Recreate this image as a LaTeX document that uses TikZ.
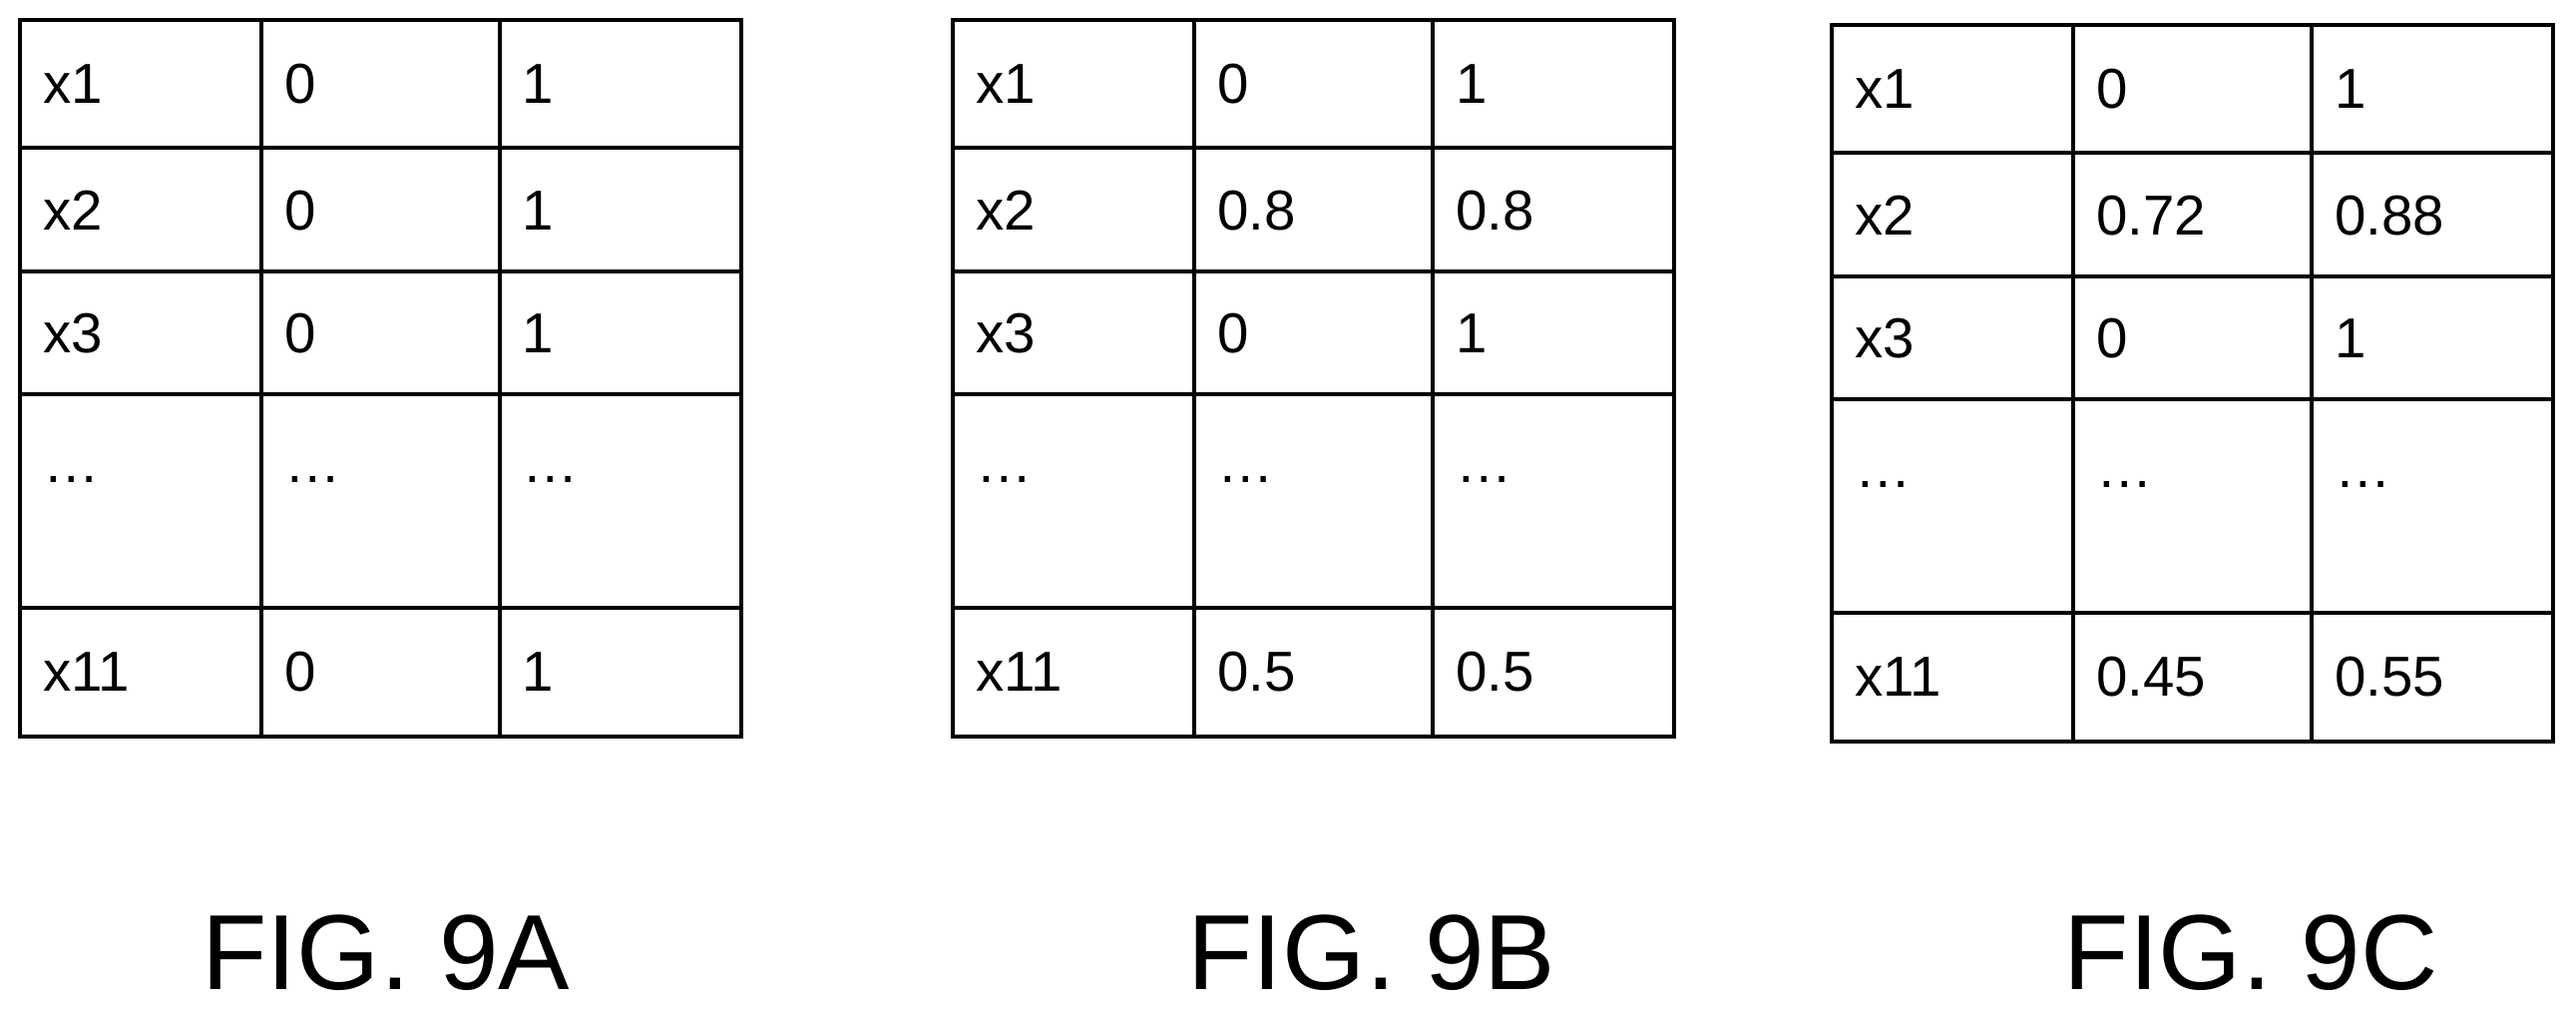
\documentclass[tikz,border=0pt]{standalone}
\usepackage{fontspec}
\setmainfont{Liberation Sans}
\usetikzlibrary{positioning}

\begin{document}
\begin{tikzpicture}[x=0.02cm, y=-0.02cm,
                cell/.style={anchor=west, font=\fontsize{19.5}{22}\selectfont},
                caption/.style={font=\fontsize{37}{42}\selectfont},
                grid/.style={line width=1.4pt}
            ]

            \useasboundingbox (0,0) rectangle (1568,620);

            % tables: left edge / top edge / name / column entries
            \foreach \tx/\ty/\tn/\ca/\cb in {
                12/12/A/{0,0,0,\dots,0}/{1,1,1,\dots,1},
                580/12/B/{0,0.8,0,\dots,0.5}/{1,0.8,1,\dots,0.5},
                1115/15/C/{0,0.72,0,\dots,0.45}/{1,0.88,1,\dots,0.55}} {
                \begin{scope}[shift={(\tx,\ty)}]
                    \draw[grid] (0,0) rectangle (439,436);
                    \foreach \r in {78,153,228,358} \draw[grid] (0,\r) -- (439,\r);
                    \foreach \c in {147,292} \draw[grid] (\c,0) -- (\c,436);
                    % row labels
                    \foreach \lab [count=\i] in {x1,x2,x3,\dots,x11} {
                        \pgfmathsetmacro{\ry}{{39,116,191,280,397}[\i-1]}
                        \node[cell] (lab\tn\i) at (8,\ry) {\lab};
                    }
                    \foreach \v [count=\i] in \ca {
                        \pgfmathsetmacro{\ry}{{39,116,191,280,397}[\i-1]}
                        \node[cell] (a\tn\i) at (155,\ry) {\v};
                    }
                    \foreach \v [count=\i] in \cb {
                        \pgfmathsetmacro{\ry}{{39,116,191,280,397}[\i-1]}
                        \node[cell] (b\tn\i) at (300,\ry) {\v};
                    }
                \end{scope}
            }

            % captions
            \node[caption] (figA) at (235,580) {FIG. 9A};
            \node[caption] (figB) at (835,580) {FIG. 9B};
            \node[caption] (figC) at (1370,580) {FIG. 9C};

        \end{tikzpicture}
\end{document}
